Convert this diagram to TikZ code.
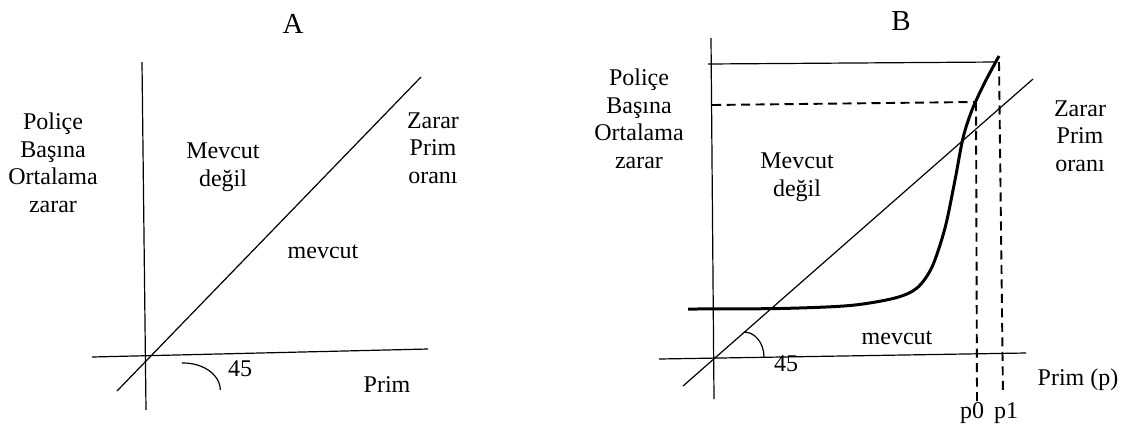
\documentclass[tikz,border=0pt]{standalone}
\usepackage{fontspec}
\setmainfont{Liberation Serif}

\begin{document}
\begin{tikzpicture}[x=1pt,y=-1pt,
    lbl/.style={inner sep=0pt,align=center,font=\fontsize{24}{27.5}\selectfont},
    ttl/.style={inner sep=0pt,font=\fontsize{29}{32}\selectfont},
    axisline/.style={line width=1.2pt},
    dashline/.style={line width=1.9pt,dash pattern=on 9pt off 5.5pt},
    curveline/.style={line width=3pt,line join=round}]
    \useasboundingbox (0,0) rectangle (1126,429);

    % A
    \node[ttl] (titleA) at (293,23.5) {A};
    \node[lbl] (yA) at (53,163) {Poliçe\\Başına\\Ortalama\\zarar};
    \node[lbl] (ratioA) at (433,148) {Zarar\\Prim\\oranı};
    \node[lbl] (noneA) at (223,167) {Mevcut\\değil};
    \node[lbl] (someA) at (323,252) {mevcut};
    \node[lbl] (angA) at (240,369) {45};
    \node[lbl] (xA) at (387,385) {Prim};

    \coordinate (aTop) at (142,62);
    \coordinate (aBot) at (146,410);
    \coordinate (aLeft) at (92,357);
    \coordinate (aRight) at (428,349);
    \coordinate (aLo) at (117,391);
    \coordinate (aHi) at (421,77);
    \coordinate (aArc) at (182,363);

    \draw[axisline] (aTop) -- (aBot);
    \draw[axisline] (aLeft) -- (aRight);
    \draw[axisline] (aLo) -- (aHi);
    \draw[axisline] (aArc) arc[start angle=-92,end angle=0,x radius=37,y radius=27];

    % B
    \node[ttl] (titleB) at (901,21) {B};
    \node[lbl] (yB) at (639,119) {Poliçe\\Başına\\Ortalama\\zarar};
    \node[lbl] (ratioB) at (1080,136) {Zarar\\Prim\\oranı};
    \node[lbl] (noneB) at (797,177) {Mevcut\\değil};
    \node[lbl] (someB) at (897,338) {mevcut};
    \node[lbl] (angB) at (786,364) {45};
    \node[lbl] (xB) at (1078,380) {Prim (p)};
    \node[lbl] (pzero) at (972,413) {p0};
    \node[lbl] (pone) at (1006,413) {p1};

    \coordinate (bTop) at (711,38);
    \coordinate (bBot) at (714,399);
    \coordinate (bLeft) at (659,359);
    \coordinate (bRight) at (1026,353);
    \coordinate (bLo) at (683,386);
    \coordinate (bHi) at (1033,79);
    \coordinate (bArc) at (744,332);
    \coordinate (hiL) at (708,64);
    \coordinate (hiR) at (997,62);
    \coordinate (midL) at (712,105);
    \coordinate (midR) at (974,102);
    \coordinate (zeroT) at (976,102);
    \coordinate (zeroB) at (977,402);
    \coordinate (oneT) at (999,62);
    \coordinate (oneB) at (1003,395);

    \draw[axisline] (bTop) -- (bBot);
    \draw[axisline] (bLeft) -- (bRight);
    \draw[axisline] (bLo) -- (bHi);
    \draw[axisline] (hiL) -- (hiR);
    \draw[axisline] (bArc) arc[start angle=-90,end angle=0,x radius=20,y radius=25];
    \draw[dashline] (midL) -- (midR);
    \draw[dashline] (zeroT) -- (zeroB);
    \draw[dashline] (oneT) -- (oneB);

    \draw[curveline] plot[smooth,tension=0.5] coordinates {(688,309) (780,308.5) (850,305.5) (895,298) (917,288) (932,267) (945,228) (955,180) (963,138) (972,110) (985,82) (999,56)};
\end{tikzpicture}
\end{document}
